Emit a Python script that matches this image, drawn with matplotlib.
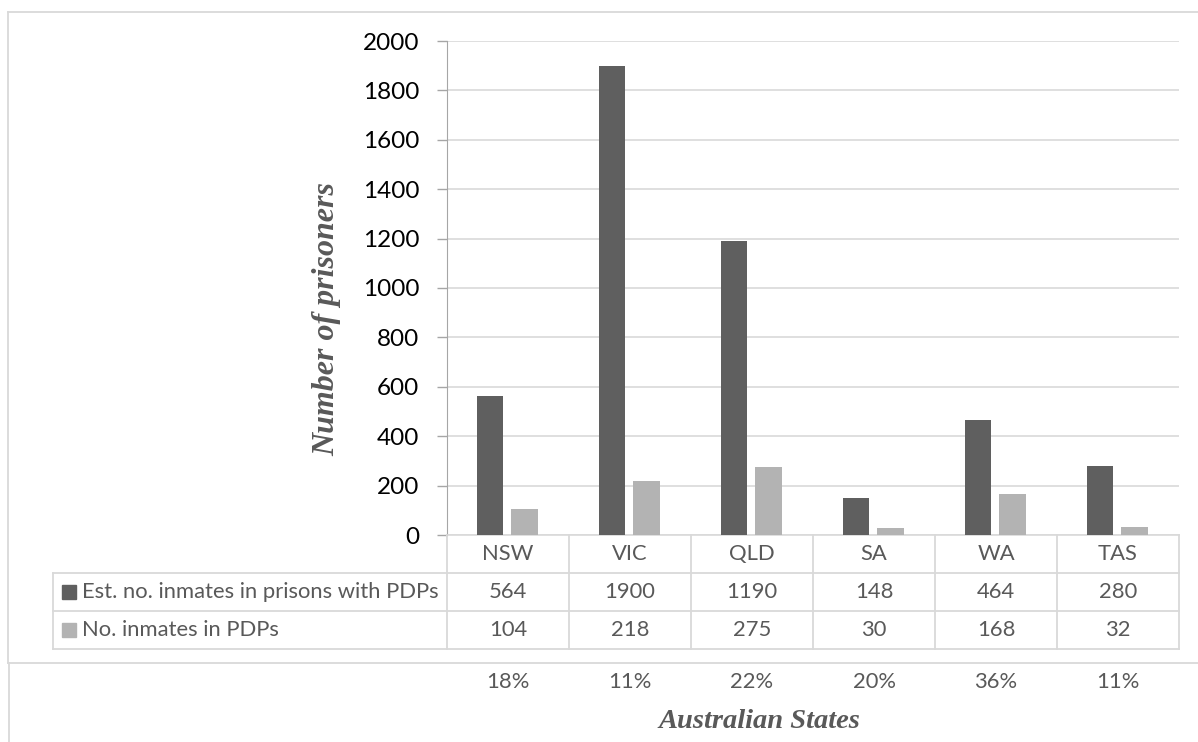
import matplotlib
matplotlib.use('Agg')
import matplotlib.pyplot as plt
import matplotlib.transforms as mtransforms
from matplotlib.lines import Line2D
from matplotlib.patches import Rectangle
import numpy as np

# data
states = ['NSW', 'VIC', 'QLD', 'SA', 'WA', 'TAS']
est_inmates = [564, 1900, 1190, 148, 464, 280]
pdp_inmates = [104, 218, 275, 30, 168, 32]
pct_labels = ['18%', '11%', '22%', '20%', '36%', '11%']
series_names = ['Est. no. inmates in prisons with PDPs', 'No. inmates in PDPs']
yticks = [0, 200, 400, 600, 800, 1000, 1200, 1400, 1600, 1800, 2000]

dark = '#5f5f5f'
light = '#b3b3b3'
grid_col = '#d9d9d9'
text_col = '#595959'
sans = 'Lato'

W, H = 1198, 742
fig = plt.figure(figsize=(W / 100, H / 100), dpi=100)
# plot area in pixels: x 447..1179, y 41..535
ax = fig.add_axes([447 / W, 1 - 535 / H, 732 / W, 494 / H])

x = np.arange(len(states))
bw = 0.215
ax.bar(x - 0.145, est_inmates, width=bw, color=dark, zorder=3)
ax.bar(x + 0.135, pdp_inmates, width=bw, color=light, zorder=3)

ax.set_xlim(-0.5, len(states) - 0.5)
ax.set_ylim(0, 2000)
ax.set_yticks(yticks)
ax.set_yticklabels([str(v) for v in yticks], fontsize=17.5, fontfamily=sans, color='black')
ax.tick_params(axis='y', length=7, width=1, color='#a6a6a6', pad=13)
ax.tick_params(axis='x', bottom=False, labelbottom=False)
ax.grid(axis='y', color=grid_col, linewidth=1.2, zorder=0)
for s in ['top', 'right']:
    ax.spines[s].set_visible(False)
ax.spines['left'].set_color('#a6a6a6')
ax.spines['bottom'].set_color(grid_col)
ax.spines['bottom'].set_linewidth(1.2)

# data table under the plot
tr = mtransforms.blended_transform_factory(ax.transData, ax.transAxes)
row_h = 38 / 494
left_edge = (53 - 447) / 732
line_kw = dict(color=grid_col, linewidth=1.3, clip_on=False)
fs_tab = 15.8

# category row
for i, st in enumerate(states):
    ax.text(i, -row_h / 2, st, transform=tr, ha='center', va='center',
            fontsize=fs_tab, fontfamily=sans, color=text_col)
# vertical borders of the columns
for i in range(len(states) + 1):
    ax.add_line(Line2D([i - 0.5, i - 0.5], [0, -3 * row_h], transform=tr, **line_kw))
# horizontal borders
for k in [1, 2, 3]:
    ax.add_line(Line2D([left_edge, 1], [-k * row_h, -k * row_h], transform=ax.transAxes, **line_kw))
ax.add_line(Line2D([left_edge, left_edge], [-row_h, -3 * row_h], transform=ax.transAxes, **line_kw))

for r, (name, vals, col) in enumerate(zip(series_names, [est_inmates, pdp_inmates], [dark, light])):
    yc = -(r + 1.5) * row_h
    ax.add_patch(Rectangle((left_edge + 9 / 732, yc - 7 / 494), 14 / 732, 14 / 494,
                           transform=ax.transAxes, color=col, clip_on=False))
    ax.text(left_edge + 29 / 732, yc, name, transform=ax.transAxes, ha='left', va='center',
            fontsize=fs_tab, fontfamily=sans, color=text_col)
    for i, v in enumerate(vals):
        ax.text(i, yc, str(v), transform=tr, ha='center', va='center',
                fontsize=fs_tab, fontfamily=sans, color=text_col)

# percentage row
for i, p in enumerate(pct_labels):
    ax.text(i, (535 - 682) / 494, p, transform=tr, ha='center', va='center',
            fontsize=fs_tab, fontfamily=sans, color=text_col)

# axis titles
fig.text(327 / W, 1 - 319 / H, 'Number of prisoners', rotation=90, ha='center', va='center',
         fontsize=23, fontfamily='Liberation Serif', fontweight='bold', fontstyle='italic',
         color=text_col)
fig.text(759 / W, 1 - 722 / H, 'Australian States', ha='center', va='center',
         fontsize=20.5, fontfamily='Liberation Serif', fontweight='bold', fontstyle='italic',
         color=text_col)

# outer frames
fkw = dict(color=grid_col, linewidth=1.3)
fig.add_artist(Line2D([8 / W, 1], [1 - 12 / H, 1 - 12 / H], **fkw))
fig.add_artist(Line2D([8 / W, 8 / W], [1 - 12 / H, 1 - 663 / H], **fkw))
fig.add_artist(Line2D([8 / W, 1], [1 - 663 / H, 1 - 663 / H], **fkw))
fig.add_artist(Line2D([9 / W, 9 / W], [1 - 663 / H, 0], **fkw))

fig.savefig('out.png', dpi=100)
